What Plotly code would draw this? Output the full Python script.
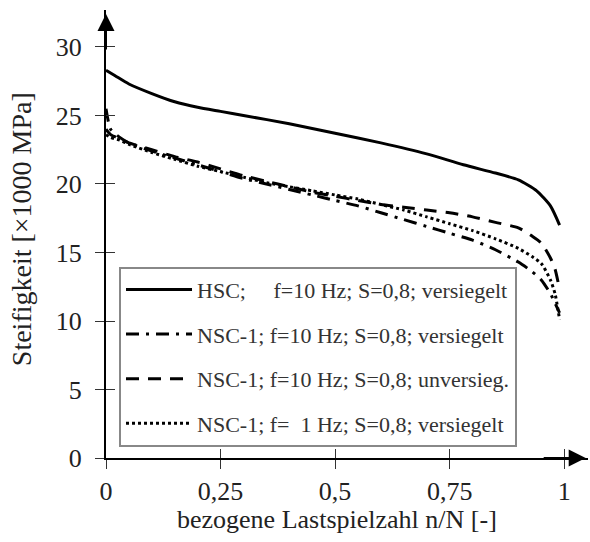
import plotly.graph_objects as go

NB = "\u00a0"

# ---- data ----
x_hsc = [0, 0.02, 0.05, 0.1, 0.15, 0.2, 0.25, 0.3, 0.4, 0.5, 0.6, 0.7, 0.78, 0.85, 0.9, 0.94, 0.97, 0.99]
y_hsc = [28.3, 27.9, 27.3, 26.6, 26.0, 25.6, 25.3, 25.0, 24.4, 23.7, 23.0, 22.2, 21.4, 20.8, 20.3, 19.5, 18.4, 17.0]

x_nsc = [0, 0.01, 0.03, 0.05, 0.1, 0.15, 0.2, 0.25, 0.3, 0.35, 0.4, 0.45, 0.5, 0.55,
         0.6, 0.65, 0.7, 0.75, 0.8, 0.85, 0.9, 0.93, 0.95, 0.97, 0.98, 0.99]
y_nsc1_10_vers = [25.5, 24.0, 23.4, 23.0, 22.4, 21.9, 21.4, 20.9, 20.4, 20.0, 19.6, 19.2, 18.8, 18.4,
                  17.9, 17.4, 16.9, 16.4, 15.9, 15.2, 14.3, 13.6, 13.0, 12.0, 11.3, 10.6]
y_nsc1_10_unvers = [24.0, 23.6, 23.3, 23.0, 22.5, 22.0, 21.6, 21.1, 20.6, 20.2, 19.8, 19.4, 19.1, 18.8,
                    18.5, 18.3, 18.1, 17.9, 17.6, 17.2, 16.8, 16.2, 15.7, 14.6, 13.8, 12.3]
y_nsc1_1_vers = [23.6, 23.4, 23.2, 22.9, 22.3, 21.8, 21.3, 20.9, 20.5, 20.1, 19.8, 19.5, 19.2, 18.9,
                 18.5, 18.1, 17.6, 17.1, 16.6, 16.0, 15.3, 14.7, 14.2, 13.0, 12.0, 10.1]

names = [
    "HSC;" + NB * 5 + "f=10 Hz; S=0,8; versiegelt",
    "NSC-1; f=10 Hz; S=0,8; versiegelt",
    "NSC-1; f=10 Hz; S=0,8; unversieg.",
    "NSC-1; f=" + NB + " 1 Hz; S=0,8; versiegelt",
]

x_ticks = [0, 0.25, 0.5, 0.75, 1]
x_ticktext = ["0", "0,25", "0,5", "0,75", "1"]
y_ticks = [0, 5, 10, 15, 20, 25, 30]

x_title = "bezogene Lastspielzahl n/N [-]"
y_title = "Steifigkeit [\u00d71000 MPa]"

FONT = "'Liberation Serif', 'Times New Roman', Times, serif"
TXT = "#222222"

X_MAX = 1.052
Y_MAX = 32.7

fig = go.Figure()
series = [
    (x_hsc, y_hsc, "solid"),
    (x_nsc, y_nsc1_10_vers, "13px,7px,3px,7px"),
    (x_nsc, y_nsc1_10_unvers, "13px,9px"),
    (x_nsc, y_nsc1_1_vers, "3px,3px"),
]
for i, (xs, ys, dash) in enumerate(series):
    fig.add_trace(go.Scatter(
        x=xs, y=ys, mode="lines", name=names[i], legendgroup=f"g{i}",
        line=dict(color="black", width=3, dash=dash, shape="spline", smoothing=0.6),
    ))

# invisible trace for overlay axes (inside tick halves)
fig.add_trace(go.Scatter(x=[], y=[], xaxis="x2", yaxis="y2", showlegend=False))

axis_common = dict(showgrid=False, zeroline=False, ticklen=9, tickwidth=1, tickcolor="#333",
                   tickfont=dict(family=FONT, size=26, color=TXT))

fig.update_layout(
    width=590, height=542,
    margin=dict(l=106, r=2, t=10, b=84),
    paper_bgcolor="white", plot_bgcolor="white",
    showlegend=True,
    xaxis=dict(range=[0, X_MAX], tickmode="array", tickvals=x_ticks, ticktext=x_ticktext,
               ticks="outside", showline=True, linecolor="black", linewidth=2,
               ticklabelstandoff=0, **axis_common),
    yaxis=dict(range=[0, Y_MAX], tickmode="array", tickvals=y_ticks,
               ticks="outside", showline=True, linecolor="black", linewidth=2,
               ticklabelstandoff=8, **axis_common),
    xaxis2=dict(overlaying="x", matches="x", range=[0, X_MAX], tickmode="array", tickvals=x_ticks,
                ticks="inside", showticklabels=False, showline=False, anchor="y2", side="bottom",
                **axis_common),
    yaxis2=dict(overlaying="y", matches="y", range=[0, Y_MAX], tickmode="array", tickvals=y_ticks,
                ticks="inside", showticklabels=False, showline=False, anchor="x2", side="left",
                **axis_common),
    legend=dict(x=0.027, y=0.427, xanchor="left", yanchor="top", bgcolor="white",
                bordercolor="#888888", borderwidth=2,
                font=dict(family=FONT, size=22, color="#333333"),
                itemwidth=66, tracegroupgap=13, traceorder="grouped"),
    annotations=[
        dict(x=0, y=Y_MAX - 0.3, xref="x", yref="y", ax=0, ay=Y_MAX - 3, axref="x", ayref="y",
             text="", showarrow=True, arrowhead=2, arrowsize=1.7, arrowwidth=2, arrowcolor="black"),
        dict(x=X_MAX - 0.005, y=0, xref="x", yref="y", ax=X_MAX - 0.1, ay=0, axref="x", ayref="y",
             text="", showarrow=True, arrowhead=2, arrowsize=1.7, arrowwidth=2, arrowcolor="black"),
        dict(x=0.48, y=-0.137, xref="paper", yref="paper", text=x_title, showarrow=False,
             xanchor="center", yanchor="middle", font=dict(family=FONT, size=26, color=TXT)),
        dict(x=-0.175, y=0.51, xref="paper", yref="paper", text=y_title, showarrow=False,
             textangle=-90, xanchor="center", yanchor="middle",
             font=dict(family=FONT, size=28, color=TXT)),
    ],
)

fig.write_html("out.html")
